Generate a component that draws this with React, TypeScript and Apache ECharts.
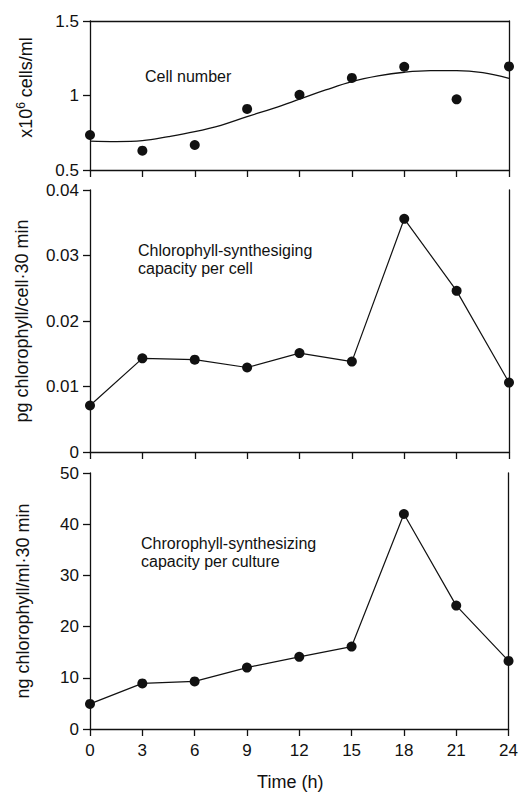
import React, { useEffect, useRef } from "react";
import * as echarts from "echarts";

// ---- data ----
const hours = [0, 3, 6, 9, 12, 15, 18, 21, 24];
const cellNumber = [0.735, 0.63, 0.668, 0.91, 1.005, 1.118, 1.193, 0.974, 1.195];
const fitHours = [0, 1.5, 3, 4.5, 6, 7.5, 9, 10.5, 12, 13.5, 15, 16.5, 18, 19.5, 21, 22.5, 24];
const cellFit = [0.694, 0.691, 0.697, 0.724, 0.757, 0.8, 0.858, 0.914, 0.975, 1.037, 1.093, 1.131, 1.156, 1.167, 1.167, 1.153, 1.115];
const perCell = [0.0071, 0.0143, 0.0141, 0.0129, 0.0151, 0.0138, 0.0356, 0.0246, 0.0106];
const perCulture = [4.9, 8.9, 9.3, 12.0, 14.1, 16.1, 42.0, 24.1, 13.3];

const yRanges = [
  { min: 0.5, max: 1.5, interval: 0.5 },
  { min: 0, max: 0.04, interval: 0.01 },
  { min: 0, max: 50, interval: 10 },
];
const yNames = [
  "{a|x10}{s|6}{a| cells/ml}",
  "pg chlorophyll/cell·30 min",
  "ng chlorophyll/ml·30 min",
];
const xName = "Time (h)";
const notes = [
  "Cell number",
  "Chlorophyll-synthesiging\ncapacity per cell",
  "Chrorophyll-synthesizing\ncapacity per culture",
];

const FONT = "'Liberation Sans', Arial, Helvetica, sans-serif";
const INK = "#111111";

export default function App() {
  const ref = useRef<HTMLDivElement>(null);

  useEffect(() => {
    const chart = echarts.init(ref.current!, null, { renderer: "svg" });

    const grids = [
      { left: 90, right: 12, top: 21, height: 149 },
      { left: 90, right: 12, top: 190, height: 262 },
      { left: 90, right: 12, top: 473, height: 256 },
    ];

    const lineStyle = { color: INK, width: 1.3 };
    const axisLine = { show: true, onZero: false, lineStyle };

    const xAxes: any[] = [0, 1, 2].map((i) => ({
      type: "value",
      gridIndex: i,
      min: 0,
      max: 24,
      interval: 3,
      position: "bottom",
      axisLine,
      axisTick: { show: true, inside: false, length: 7, lineStyle },
      axisLabel: {
        show: i === 2,
        margin: 13,
        fontSize: 17,
        color: INK,
        fontFamily: FONT,
      },
      splitLine: { show: false },
      name: i === 2 ? xName : "",
      nameLocation: "middle",
      nameGap: 44,
      nameTextStyle: { fontSize: 18, color: INK, fontFamily: FONT, padding: [0, 18, 0, 0] },
    }));
    // top frame line of the first panel
    xAxes.push({
      type: "value",
      gridIndex: 0,
      min: 0,
      max: 24,
      position: "top",
      axisLine,
      axisTick: { show: false },
      axisLabel: { show: false },
      splitLine: { show: false },
    });

    const yAxes: any[] = [0, 1, 2].map((i) => ({
      type: "value",
      gridIndex: i,
      position: "left",
      ...yRanges[i],
      axisLine,
      axisTick: { show: true, inside: false, length: 7, lineStyle },
      axisLabel: { margin: 11, fontSize: 17, color: INK, fontFamily: FONT },
      splitLine: { show: false },
      name: yNames[i],
      nameLocation: "middle",
      nameGap: [54, 59, 58][i],
      nameTextStyle: {
        fontSize: 18,
        color: INK,
        fontFamily: FONT,
        padding: i === 0 ? [0, 0, 0, 16] : 0,
        rich: {
          a: { fontSize: 18, color: INK, fontFamily: FONT },
          s: { fontSize: 12, color: INK, fontFamily: FONT, padding: [0, 0, 9, 0] },
        },
      },
    }));
    [0, 1, 2].forEach((i) =>
      yAxes.push({
        type: "value",
        gridIndex: i,
        position: "right",
        ...yRanges[i],
        axisLine,
        axisTick: { show: false },
        axisLabel: { show: false },
        splitLine: { show: false },
      })
    );

    const dot = { symbol: "circle", symbolSize: 10, itemStyle: { color: INK, opacity: 1 } };

    chart.setOption({
      animation: false,
      backgroundColor: "#ffffff",
      grid: grids,
      xAxis: xAxes,
      yAxis: yAxes,
      series: [
        {
          type: "line",
          xAxisIndex: 0,
          yAxisIndex: 0,
          data: fitHours.map((h, i) => [h, cellFit[i]]),
          smooth: 0.4,
          showSymbol: false,
          lineStyle: { color: INK, width: 1.3 },
          clip: false,
        },
        {
          type: "scatter",
          xAxisIndex: 0,
          yAxisIndex: 0,
          data: hours.map((h, i) => [h, cellNumber[i]]),
          ...dot,
          clip: false,
        },
        {
          type: "line",
          xAxisIndex: 1,
          yAxisIndex: 1,
          data: hours.map((h, i) => [h, perCell[i]]),
          ...dot,
          lineStyle: { color: INK, width: 1.2 },
          clip: false,
        },
        {
          type: "line",
          xAxisIndex: 2,
          yAxisIndex: 2,
          data: hours.map((h, i) => [h, perCulture[i]]),
          ...dot,
          lineStyle: { color: INK, width: 1.2 },
          clip: false,
        },
      ],
      graphic: [
        {
          type: "text",
          left: 145,
          top: 67,
          style: { text: notes[0], fill: INK, font: `16px ${FONT}`, lineHeight: 18 },
        },
        {
          type: "text",
          left: 138,
          top: 241,
          style: { text: notes[1], fill: INK, font: `16px ${FONT}`, lineHeight: 18 },
        },
        {
          type: "text",
          left: 141,
          top: 534,
          style: { text: notes[2], fill: INK, font: `16px ${FONT}`, lineHeight: 18 },
        },
      ],
    });

    return () => chart.dispose();
  }, []);

  return (
    <div
      ref={ref}
      style={{ position: "absolute", left: 0, top: 0, width: 521, height: 792, background: "#fff" }}
    />
  );
}
